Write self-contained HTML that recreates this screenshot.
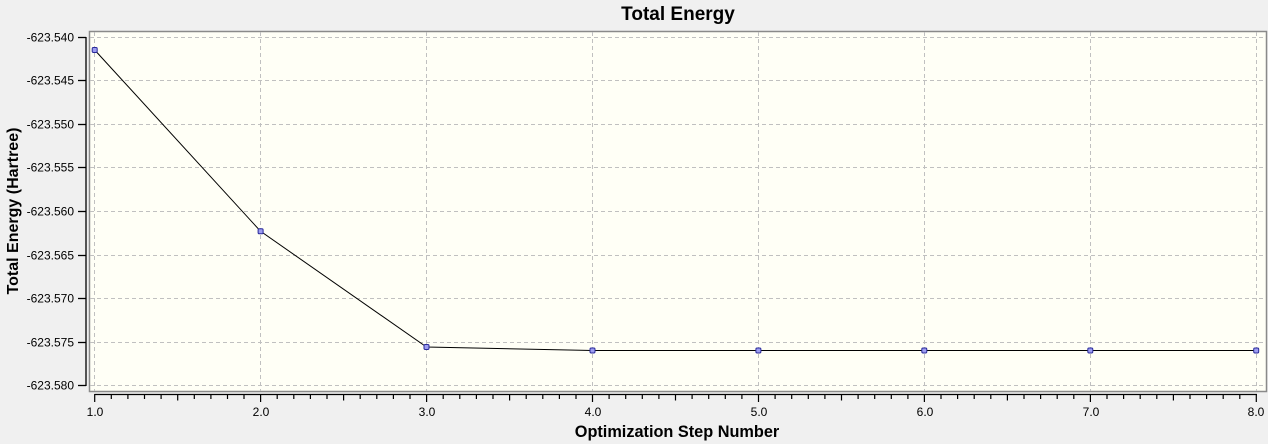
<!DOCTYPE html>
<html><head><meta charset="utf-8"><style>
html,body{margin:0;padding:0;background:#f0f0f0;}
svg{display:block;}
text{font-family:"Liberation Sans",Arial,sans-serif;}
</style></head><body>
<svg width="1268" height="444" viewBox="0 0 1268 444" xmlns="http://www.w3.org/2000/svg">
<rect x="0" y="0" width="1268" height="444" fill="#f0f0f0"/>
<text x="678" y="20" font-size="19" font-weight="bold" text-anchor="middle" fill="#000">Total Energy</text>
<rect x="89.5" y="31.5" width="1177" height="360" fill="#fffff6" stroke="#8a8a8a" stroke-width="1.5"/>
<g stroke="#c0c0c0" stroke-width="1" stroke-dasharray="4,3" fill="none">
<line x1="90" y1="37.5" x2="1266" y2="37.5"/>
<line x1="90" y1="80.5" x2="1266" y2="80.5"/>
<line x1="90" y1="124.5" x2="1266" y2="124.5"/>
<line x1="90" y1="167.5" x2="1266" y2="167.5"/>
<line x1="90" y1="211.5" x2="1266" y2="211.5"/>
<line x1="90" y1="255.5" x2="1266" y2="255.5"/>
<line x1="90" y1="298.5" x2="1266" y2="298.5"/>
<line x1="90" y1="342.5" x2="1266" y2="342.5"/>
<line x1="90" y1="385.5" x2="1266" y2="385.5"/>
<line x1="94.5" y1="32" x2="94.5" y2="391"/>
<line x1="260.5" y1="32" x2="260.5" y2="391"/>
<line x1="426.5" y1="32" x2="426.5" y2="391"/>
<line x1="592.5" y1="32" x2="592.5" y2="391"/>
<line x1="758.5" y1="32" x2="758.5" y2="391"/>
<line x1="924.5" y1="32" x2="924.5" y2="391"/>
<line x1="1090.5" y1="32" x2="1090.5" y2="391"/>
<line x1="1256.5" y1="32" x2="1256.5" y2="391"/>
</g>
<polyline points="94.7,50 260.6,231.3 426.5,347 592.5,350.5 758.4,350.5 924.3,350.5 1090.3,350.5 1256.2,350.5" fill="none" stroke="#000" stroke-width="1"/>
<g fill="#9c9cf0" stroke="#2a2a9a" stroke-width="1">
<rect x="92.2" y="47.5" width="5" height="5" rx="1.2"/>
<rect x="258.1" y="228.8" width="5" height="5" rx="1.2"/>
<rect x="424" y="344.5" width="5" height="5" rx="1.2"/>
<rect x="590" y="348" width="5" height="5" rx="1.2"/>
<rect x="755.9" y="348" width="5" height="5" rx="1.2"/>
<rect x="921.8" y="348" width="5" height="5" rx="1.2"/>
<rect x="1087.8" y="348" width="5" height="5" rx="1.2"/>
<rect x="1253.7" y="348" width="5" height="5" rx="1.2"/>
</g>
<!-- Y axis -->
<g stroke="#000" stroke-width="1.3">
<line x1="86" y1="37" x2="86" y2="386"/>
<line x1="78" y1="37.5" x2="86" y2="37.5"/>
<line x1="78" y1="80.5" x2="86" y2="80.5"/>
<line x1="78" y1="124.5" x2="86" y2="124.5"/>
<line x1="78" y1="167.5" x2="86" y2="167.5"/>
<line x1="78" y1="211.5" x2="86" y2="211.5"/>
<line x1="78" y1="255.5" x2="86" y2="255.5"/>
<line x1="78" y1="298.5" x2="86" y2="298.5"/>
<line x1="78" y1="342.5" x2="86" y2="342.5"/>
<line x1="78" y1="385.5" x2="86" y2="385.5"/>
</g>
<g font-size="12" text-anchor="end" fill="#000">
<text x="74" y="41.5">-623.540</text>
<text x="74" y="84.5">-623.545</text>
<text x="74" y="128.5">-623.550</text>
<text x="74" y="171.5">-623.555</text>
<text x="74" y="215.5">-623.560</text>
<text x="74" y="259.5">-623.565</text>
<text x="74" y="302.5">-623.570</text>
<text x="74" y="346.5">-623.575</text>
<text x="74" y="389.5">-623.580</text>
</g>
<text transform="translate(18,211) rotate(-90)" font-size="16" font-weight="bold" text-anchor="middle" fill="#000">Total Energy (Hartree)</text>
<!-- X axis -->
<g stroke="#000" stroke-width="1.3" id="xaxis">
<line x1="94.5" y1="394.5" x2="1257" y2="394.5"/>
</g>
<g id="xt" stroke="#000" stroke-width="1.2"></g>
<g font-size="12" text-anchor="middle" fill="#000">
<text x="95" y="416">1.0</text>
<text x="261" y="416">2.0</text>
<text x="427" y="416">3.0</text>
<text x="593" y="416">4.0</text>
<text x="759" y="416">5.0</text>
<text x="925" y="416">6.0</text>
<text x="1091" y="416">7.0</text>
<text x="1256" y="416">8.0</text>
</g>
<text x="677" y="437" font-size="16.3" font-weight="bold" text-anchor="middle" fill="#000">Optimization Step Number</text>
<g stroke="#000" stroke-width="1.2">
<path d="M94.7,394V402 M111.3,394V399 M127.9,394V399 M144.5,394V399 M161.1,394V399 M177.7,394V400.5 M194.3,394V399 M210.9,394V399 M227.5,394V399 M244.0,394V399
M260.6,394V402 M277.2,394V399 M293.8,394V399 M310.4,394V399 M327.0,394V399 M343.6,394V400.5 M360.2,394V399 M376.8,394V399 M393.4,394V399 M410.0,394V399
M426.6,394V402 M443.2,394V399 M459.8,394V399 M476.4,394V399 M493.0,394V399 M509.6,394V400.5 M526.2,394V399 M542.8,394V399 M559.4,394V399 M576.0,394V399
M592.5,394V402 M609.1,394V399 M625.7,394V399 M642.3,394V399 M658.9,394V399 M675.5,394V400.5 M692.1,394V399 M708.7,394V399 M725.3,394V399 M741.9,394V399
M758.5,394V402 M775.1,394V399 M791.7,394V399 M808.3,394V399 M824.9,394V399 M841.5,394V400.5 M858.1,394V399 M874.7,394V399 M891.3,394V399 M907.9,394V399
M924.4,394V402 M941.0,394V399 M957.6,394V399 M974.2,394V399 M990.8,394V399 M1007.4,394V400.5 M1024.0,394V399 M1040.6,394V399 M1057.2,394V399 M1073.8,394V399
M1090.4,394V402 M1107.0,394V399 M1123.6,394V399 M1140.2,394V399 M1156.8,394V399 M1173.4,394V400.5 M1190.0,394V399 M1206.6,394V399 M1223.2,394V399 M1239.8,394V399
M1256.3,394V402"/>
</g>
</svg>
</body></html>
